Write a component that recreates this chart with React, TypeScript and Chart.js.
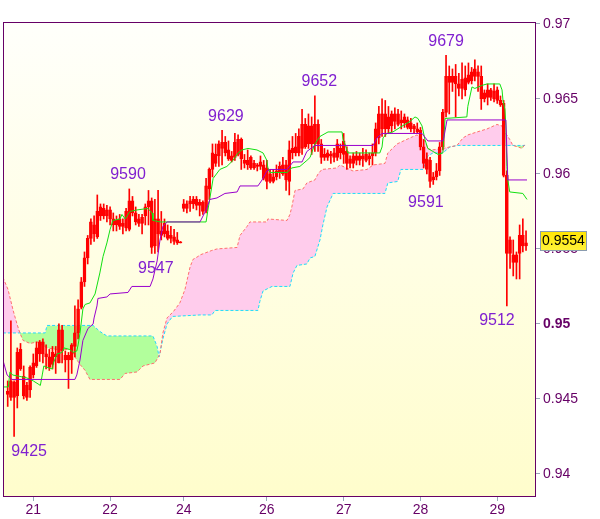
import React, { useEffect, useRef } from "react";
import { Chart, registerables } from "chart.js";
Chart.register(...registerables);

// ---- data (prices in pips: 9453 = 0.9453) ----
const opens = [
  9453, 9462, 9461, 9452, 9483, 9465, 9459, 9456, 9466, 9472, 9480, 9488, 9480, 9478, 9473, 9480, 9474, 9496, 9476, 9479,
  9476, 9485, 9494, 9511, 9528, 9544, 9557, 9566, 9558, 9572, 9577, 9572, 9576, 9570, 9566, 9570, 9565, 9564, 9563, 9582,
  9574, 9570, 9567, 9572, 9578, 9582, 9552, 9570, 9562, 9567, 9562, 9559, 9558, 9556, 9554, 9580, 9577, 9580, 9580, 9583,
  9579, 9581, 9575, 9590, 9603, 9607, 9612, 9617, 9621, 9616, 9612, 9611, 9613, 9623, 9609, 9606, 9611, 9604, 9605, 9608,
  9606, 9604, 9600, 9595, 9598, 9601, 9606, 9606, 9595, 9614, 9618, 9614, 9617, 9633, 9620, 9632, 9620, 9633, 9620, 9613,
  9611, 9612, 9614, 9611, 9617, 9613, 9615, 9610, 9607, 9609, 9612, 9612, 9609, 9610, 9612, 9614, 9624, 9630, 9640, 9630,
  9640, 9635, 9640, 9636, 9634, 9636, 9634, 9630, 9630, 9629, 9618, 9610, 9609, 9596, 9598, 9602, 9618, 9641, 9665, 9661,
  9665, 9660, 9657, 9664, 9666, 9662, 9670, 9668, 9665, 9650, 9651, 9656, 9650, 9656, 9649, 9647, 9599, 9556, 9546, 9546,
  9547, 9552, 9552,
];
const highs = [
  9462, 9502, 9462, 9484, 9487, 9472, 9461, 9472, 9480, 9488, 9489, 9490, 9486, 9483, 9485, 9485, 9500, 9499, 9482, 9481,
  9487, 9512, 9516, 9531, 9548, 9559, 9570, 9572, 9586, 9580, 9580, 9579, 9578, 9574, 9572, 9573, 9570, 9577, 9590, 9585,
  9578, 9573, 9573, 9580, 9589, 9584, 9583, 9589, 9575, 9570, 9566, 9565, 9563, 9561, 9555, 9583, 9582, 9585, 9585, 9585,
  9583, 9582, 9597, 9604, 9620, 9620, 9622, 9629, 9625, 9622, 9615, 9627, 9626, 9624, 9613, 9616, 9612, 9609, 9607, 9612,
  9609, 9609, 9603, 9603, 9606, 9608, 9611, 9609, 9622, 9625, 9627, 9630, 9643, 9637, 9640, 9638, 9652, 9636, 9623, 9617,
  9616, 9615, 9617, 9623, 9620, 9627, 9618, 9612, 9614, 9615, 9614, 9617, 9616, 9614, 9620, 9634, 9645, 9650, 9649, 9645,
  9642, 9644, 9643, 9642, 9640, 9638, 9637, 9633, 9634, 9631, 9623, 9614, 9611, 9601, 9607, 9621, 9643, 9679, 9672, 9670,
  9673, 9667, 9674, 9672, 9674, 9671, 9676, 9672, 9672, 9656, 9660, 9657, 9660, 9658, 9652, 9649, 9602, 9558, 9556, 9548,
  9566, 9570, 9562,
];
const lows = [
  9445, 9449, 9425, 9444, 9469, 9450, 9449, 9451, 9464, 9471, 9475, 9474, 9470, 9469, 9470, 9467, 9474, 9474, 9468, 9457,
  9467, 9478, 9490, 9510, 9525, 9540, 9553, 9555, 9557, 9569, 9570, 9568, 9566, 9562, 9562, 9563, 9560, 9562, 9562, 9572,
  9566, 9565, 9560, 9566, 9566, 9547, 9547, 9548, 9556, 9558, 9556, 9554, 9553, 9553, 9554, 9575, 9574, 9575, 9577, 9576,
  9572, 9573, 9574, 9583, 9598, 9605, 9605, 9606, 9612, 9609, 9608, 9609, 9612, 9603, 9604, 9603, 9603, 9603, 9602, 9603,
  9596, 9590, 9594, 9594, 9596, 9597, 9599, 9589, 9586, 9610, 9612, 9612, 9613, 9617, 9617, 9613, 9615, 9615, 9607, 9609,
  9609, 9607, 9608, 9609, 9610, 9607, 9603, 9604, 9604, 9606, 9606, 9605, 9608, 9606, 9606, 9612, 9620, 9625, 9625, 9627,
  9628, 9630, 9632, 9630, 9631, 9630, 9628, 9627, 9627, 9616, 9604, 9600, 9591, 9593, 9596, 9599, 9616, 9638, 9640, 9655,
  9638, 9652, 9650, 9652, 9660, 9660, 9662, 9655, 9643, 9648, 9646, 9649, 9648, 9647, 9645, 9598, 9512, 9537, 9532, 9530,
  9530, 9548, 9549,
];
const closes = [
  9455, 9451, 9451, 9481, 9470, 9452, 9451, 9471, 9474, 9484, 9488, 9480, 9478, 9471, 9481, 9478, 9496, 9482, 9479, 9476,
  9486, 9494, 9510, 9528, 9544, 9557, 9568, 9560, 9575, 9578, 9572, 9576, 9570, 9566, 9569, 9565, 9567, 9575, 9582, 9574,
  9568, 9567, 9571, 9578, 9582, 9551, 9570, 9560, 9559, 9560, 9557, 9557, 9555, 9554, 9554, 9577, 9580, 9582, 9583, 9579,
  9581, 9575, 9592, 9603, 9614, 9613, 9620, 9621, 9614, 9610, 9609, 9621, 9623, 9610, 9607, 9609, 9604, 9607, 9606, 9605,
  9597, 9595, 9595, 9598, 9602, 9605, 9600, 9596, 9616, 9617, 9614, 9625, 9633, 9618, 9632, 9620, 9633, 9620, 9611, 9611,
  9614, 9613, 9611, 9620, 9614, 9622, 9607, 9607, 9612, 9612, 9609, 9610, 9613, 9612, 9614, 9630, 9640, 9640, 9630, 9638,
  9632, 9640, 9633, 9634, 9638, 9631, 9630, 9632, 9628, 9618, 9607, 9603, 9595, 9598, 9602, 9618, 9641, 9665, 9661, 9665,
  9660, 9657, 9663, 9656, 9661, 9668, 9665, 9665, 9650, 9654, 9656, 9651, 9655, 9649, 9646, 9599, 9547, 9547, 9541, 9541,
  9559, 9559, 9554,
];

// Tenkan-sen (green) vertices: bar position / pips
const tenkanBars = [
  -1.5, 0.2, 0.7, 1.5, 3.8, 6, 8, 9.5, 10.2, 10.8, 11.3, 12.3, 14, 14.3, 15.4, 17, 17.6, 19.3, 20.5, 21.6,
  22.0, 22.6, 23.5, 24.2, 25.7, 27.3, 28.8, 29.8, 31.0, 32.0, 32.9, 35.1, 35.7, 36.7, 38.2, 40.4, 43.8, 45.1, 45.4, 47.6,
  62.0, 62.5, 63.2, 64.2, 66.3, 68.5, 70.4, 72.0, 73.2, 75.1, 77.9, 79.8, 81.0, 81.3, 82.0, 87.3, 88.8, 91.3, 93.5, 94.5,
  96.0, 97.6, 100.1, 104.5, 104.8, 105.4, 106.0, 106.3, 116.3, 117.0, 117.3, 118.5, 120.4, 122.6, 125.7, 127.3, 128.2, 129.5, 130.4, 131.3,
  132.9, 134.5, 136.0, 136.7, 143.5, 143.8, 145.1, 146.0, 148.2, 149.8, 153.8, 154.5, 154.8, 155.4, 155.7, 156.0, 156.3, 156.9, 161.0, 162.3,
];
const tenkanPips = [
  9458, 9458, 9468, 9466, 9465, 9464, 9462, 9460, 9459, 9466, 9472, 9471, 9470, 9474, 9480, 9481, 9484, 9483, 9481, 9482,
  9486, 9494, 9510, 9513, 9514, 9520, 9534, 9545, 9554, 9563, 9569, 9570, 9573, 9570, 9575, 9576, 9577, 9574, 9569, 9568,
  9568, 9575, 9584, 9597, 9603, 9605, 9609, 9614, 9616, 9617, 9616, 9614, 9609, 9604, 9601, 9601, 9604, 9605, 9609, 9611,
  9620, 9625, 9628, 9628, 9623, 9620, 9616, 9614, 9614, 9618, 9624, 9627, 9628, 9631, 9635, 9638, 9637, 9632, 9623, 9617,
  9615, 9613, 9614, 9637, 9638, 9645, 9658, 9657, 9659, 9660, 9660, 9656, 9649, 9643, 9632, 9605, 9596, 9588, 9587, 9583,
];

// Kijun-sen (purple) vertices
const kijunBars = [
  -1.5, -0.2, 1.3, 21.0, 21.6, 22.6, 23.5, 25.1, 26.7, 27.0, 27.9, 28.2, 31.0, 32.0, 37.6, 38.8, 44.5, 45.4, 46.7, 47.6,
  48.5, 49.8, 60.1, 62.0, 63.2, 65.4, 67.9, 71.7, 72.6, 78.2, 79.5, 81.0, 82.0, 87.3, 89.2, 92.0, 93.5, 96.0, 114.2, 115.4,
  117.0, 129.5, 131.3, 136.0, 136.3, 137.3, 155.7, 156.0, 156.3, 162.3,
];
const kijunPips = [
  9476, 9466, 9463, 9463, 9466, 9476, 9489, 9497, 9500, 9504, 9512, 9517, 9518, 9520, 9521, 9525, 9525, 9530, 9542, 9556,
  9565, 9568, 9568, 9576, 9583, 9584, 9587, 9588, 9592, 9592, 9596, 9602, 9603, 9603, 9608, 9608, 9615, 9619, 9619, 9624,
  9627, 9627, 9622, 9622, 9624, 9636, 9636, 9616, 9596, 9596,
];

// Senkou span A (salmon) vertices
const spanABars = [
  -1.5, 0.1, 1.7, 2.9, 3.8, 4.8, 7.0, 9.2, 10.7, 12.3, 15.4, 20.1, 21.0, 22.6, 24.2, 25.7, 35.1, 36.7, 40.4, 42.3,
  46.0, 47.6, 48.5, 49.8, 50.7, 51.7, 53.8, 55.4, 57.0, 57.9, 59.5, 60.1, 63.8, 65.4, 71.7, 72.6, 74.8, 75.7, 81.0, 81.3,
  87.3, 88.2, 88.8, 89.8, 92.3, 93.5, 96.0, 97.0, 98.2, 102.9, 103.8, 107.9, 112.3, 114.2, 117.9, 118.8, 121.7, 125.7, 127.9, 129.5,
  130.4, 131.3, 132.6, 136.0, 138.2, 140.4, 142.3, 143.8, 146.7, 149.8, 152.9, 154.5, 154.8, 156.0, 156.9, 157.9, 159.5, 160.8, 161.7,
];
const spanAPips = [
  9531, 9523, 9509, 9500, 9494, 9489, 9487, 9488, 9486, 9484, 9483, 9483, 9478, 9473, 9469, 9463, 9463, 9467, 9468, 9472,
  9474, 9480, 9494, 9504, 9506, 9508, 9514, 9523, 9538, 9543, 9545, 9546, 9549, 9550, 9551, 9559, 9565, 9568, 9568, 9570,
  9569, 9573, 9578, 9589, 9590, 9594, 9596, 9600, 9603, 9604, 9606, 9602, 9603, 9606, 9607, 9614, 9620, 9624, 9626, 9624,
  9622, 9617, 9616, 9617, 9618, 9619, 9624, 9626, 9628, 9630, 9633, 9632, 9629, 9626, 9623, 9619, 9618, 9617, 9620,
];

// Senkou span B (cyan) vertices
const spanBBars = [
  -1.5, 11.7, 12.3, 26.7, 28.8, 31.0, 45.4, 46.7, 47.3, 48.5, 49.8, 51.5, 60.1, 63.8, 64.8, 78.2, 78.8, 79.8, 82.6, 88.2,
  89.2, 90.4, 93.5, 94.5, 96.0, 97.6, 98.5, 99.8, 101.7, 117.9, 118.8, 121.9, 122.9, 129.8, 131.3, 132.9, 136.0, 138.2, 140.7, 161.7,
];
const spanBPips = [
  9494, 9494, 9499, 9499, 9495, 9492, 9492, 9485, 9478, 9490, 9500, 9505, 9506, 9506, 9509, 9509, 9515, 9522, 9525, 9525,
  9534, 9539, 9540, 9544, 9545, 9556, 9566, 9578, 9587, 9587, 9594, 9595, 9603, 9603, 9612, 9614, 9614, 9618, 9619, 9619,
];

// x-axis day labels and the bar where each day starts
const dayLabels = ["21", "22", "24", "26", "27", "28", "29"];
const dayBars = [8, 32, 55, 81, 105, 129, 153];
const yTicks = [0.94, 0.945, 0.95, 0.955, 0.96, 0.965, 0.97];

// swing high/low notes
const noteTexts = ["9425", "9590", "9547", "9629", "9652", "9679", "9591", "9512"];
const noteBars = [6.7, 37.6, 46.3, 68.2, 97.4, 137.0, 130.7, 152.9];
const notePips = [9425, 9590, 9547, 9629, 9652, 9679, 9591, 9512];
const noteSides = ["below", "above", "below", "above", "above", "above", "below", "below"];

const lastPrice = 0.9554;

const P = (v: number) => v / 10000;
const FONT = '"Liberation Sans", Arial, sans-serif';

export default function App() {
  const ref = useRef<HTMLCanvasElement>(null);

  useEffect(() => {
    const canvas = ref.current!;
    const pts = (bars: number[], pips: number[]) => bars.map((b, k) => ({ x: b, y: P(pips[k]) }));
    const idx = opens.map((_, i) => i);

    const decor = {
      id: "decor",
      beforeDraw(chart: any) {
        const { ctx, chartArea: a } = chart;
        ctx.save();
        ctx.fillStyle = "#ffffff";
        ctx.fillRect(0, 0, chart.width, chart.height);
        const g = ctx.createLinearGradient(0, a.top, 0, a.bottom);
        g.addColorStop(0, "#fffffb");
        g.addColorStop(1, "#fffdcc");
        ctx.fillStyle = g;
        ctx.fillRect(a.left, a.top, a.right - a.left, a.bottom - a.top);
        ctx.restore();
      },
      afterDraw(chart: any) {
        const { ctx, chartArea: a, scales } = chart;
        const xs = scales.x, ys = scales.y;
        ctx.save();
        // notes
        ctx.font = `16px ${FONT}`;
        ctx.fillStyle = "#8020d0";
        ctx.textAlign = "center";
        ctx.textBaseline = "middle";
        noteTexts.forEach((t, k) => {
          const px = xs.getPixelForValue(noteBars[k]);
          const py = ys.getPixelForValue(P(notePips[k])) + (noteSides[k] === "above" ? -14 : 15);
          ctx.fillText(t, px, py);
        });
        // frame
        ctx.strokeStyle = "#660066";
        ctx.lineWidth = 1;
        ctx.strokeRect(a.left + 0.5, a.top + 0.5, a.right - a.left, a.bottom - a.top);
        // last price box
        const py = Math.round(ys.getPixelForValue(lastPrice)) - 2;
        const bx = a.right + 5, bw = 46, bh = 19;
        const by = py - 10;
        const g = ctx.createLinearGradient(0, by, 0, by + bh);
        g.addColorStop(0, "#ffe400");
        g.addColorStop(1, "#fff23a");
        ctx.fillStyle = g;
        ctx.fillRect(bx, by, bw, bh);
        ctx.strokeStyle = "#8a9cb0";
        ctx.strokeRect(bx + 0.5, by + 0.5, bw, bh);
        ctx.fillStyle = "#000000";
        ctx.font = `14px ${FONT}`;
        ctx.textAlign = "left";
        ctx.textBaseline = "middle";
        ctx.fillText(lastPrice.toFixed(4), bx + 2, by + bh / 2 + 1);
        ctx.restore();
      },
    };

    const chart = new Chart(canvas, {
      type: "bar",
      data: {
        datasets: [
          {
            type: "line",
            label: "kijun",
            data: pts(kijunBars, kijunPips),
            borderColor: "#9a00cc",
            borderWidth: 1,
            pointRadius: 0,
            fill: false,
            order: 0,
          } as any,
          {
            type: "line",
            label: "tenkan",
            data: pts(tenkanBars, tenkanPips),
            borderColor: "#12e012",
            borderWidth: 1,
            pointRadius: 0,
            fill: false,
            order: 1,
          } as any,
          {
            type: "bar",
            label: "body",
            data: idx.map((i) => ({ x: i, y: [P(opens[i]), P(closes[i])] })),
            backgroundColor: idx.map((i) => (closes[i] < opens[i] ? "#ff0000" : "rgba(255,255,255,0)")),
            borderColor: "#ff0000",
            borderWidth: 1,
            borderSkipped: false,
            barThickness: 3,
            minBarLength: 1,
            grouped: false,
            order: 2,
          } as any,
          {
            type: "bar",
            label: "wick",
            data: idx.map((i) => ({ x: i, y: [P(lows[i]), P(highs[i])] })),
            backgroundColor: "#ff0000",
            borderWidth: 0,
            barThickness: 1,
            grouped: false,
            order: 3,
          } as any,
          {
            type: "line",
            label: "spanA",
            data: pts(spanABars, spanAPips),
            borderColor: "#ff6f6f",
            borderWidth: 1,
            borderDash: [3, 2],
            pointRadius: 0,
            fill: { target: 5, above: "#ffccec", below: "#b2ff9c" },
            order: 4,
          } as any,
          {
            type: "line",
            label: "spanB",
            data: pts(spanBBars, spanBPips),
            borderColor: "#22d8ff",
            borderWidth: 1,
            borderDash: [3, 2],
            pointRadius: 0,
            fill: false,
            order: 5,
          } as any,
        ],
      },
      options: {
        responsive: false,
        animation: false,
        devicePixelRatio: 1,
        layout: { padding: { left: 3, top: 22, right: 0, bottom: 0 } },
        plugins: {
          legend: { display: false },
          tooltip: { enabled: false },
          filler: { drawTime: "beforeDatasetsDraw" },
        } as any,
        scales: {
          x: {
            type: "linear",
            min: -1.47,
            max: 164.8,
            offset: false,
            border: { display: false },
            grid: { offset: false, drawOnChartArea: false, drawTicks: true, tickLength: 5, tickColor: "#99a8b8" },
            ticks: {
              autoSkip: false,
              maxRotation: 0,
              color: "#660066",
              padding: 1,
              font: { family: FONT, size: 14 },
              callback: (_v: any, i: number) => dayLabels[i],
            },
            afterBuildTicks: (s: any) => {
              s.ticks = dayBars.map((v) => ({ value: v }));
            },
            afterFit: (s: any) => {
              s.height = 23;
            },
          },
          y: {
            type: "linear",
            position: "right",
            min: 0.93853,
            max: 0.97013,
            border: { display: false },
            grid: { offset: false, drawOnChartArea: false, drawTicks: true, tickLength: 5, tickColor: "#99a8b8" },
            ticks: {
              color: "#660066",
              padding: 3,
              font: (c: any) => ({
                family: FONT,
                size: 14,
                weight: c.tick && Math.abs(c.tick.value - 0.95) < 1e-7 ? "bold" : "normal",
              }),
              callback: (v: any) => String(Number(Number(v).toFixed(3))),
            },
            afterBuildTicks: (s: any) => {
              s.ticks = yTicks.map((v) => ({ value: v }));
            },
            afterFit: (s: any) => {
              s.width = 65;
            },
          },
        } as any,
      },
      plugins: [decor],
    });
    return () => chart.destroy();
  }, []);

  return (
    <div style={{ position: "absolute", left: 0, top: 0, width: 600, height: 519, background: "#fff" }}>
      <canvas ref={ref} width={600} height={519} style={{ display: "block", width: 600, height: 519 }} />
    </div>
  );
}
